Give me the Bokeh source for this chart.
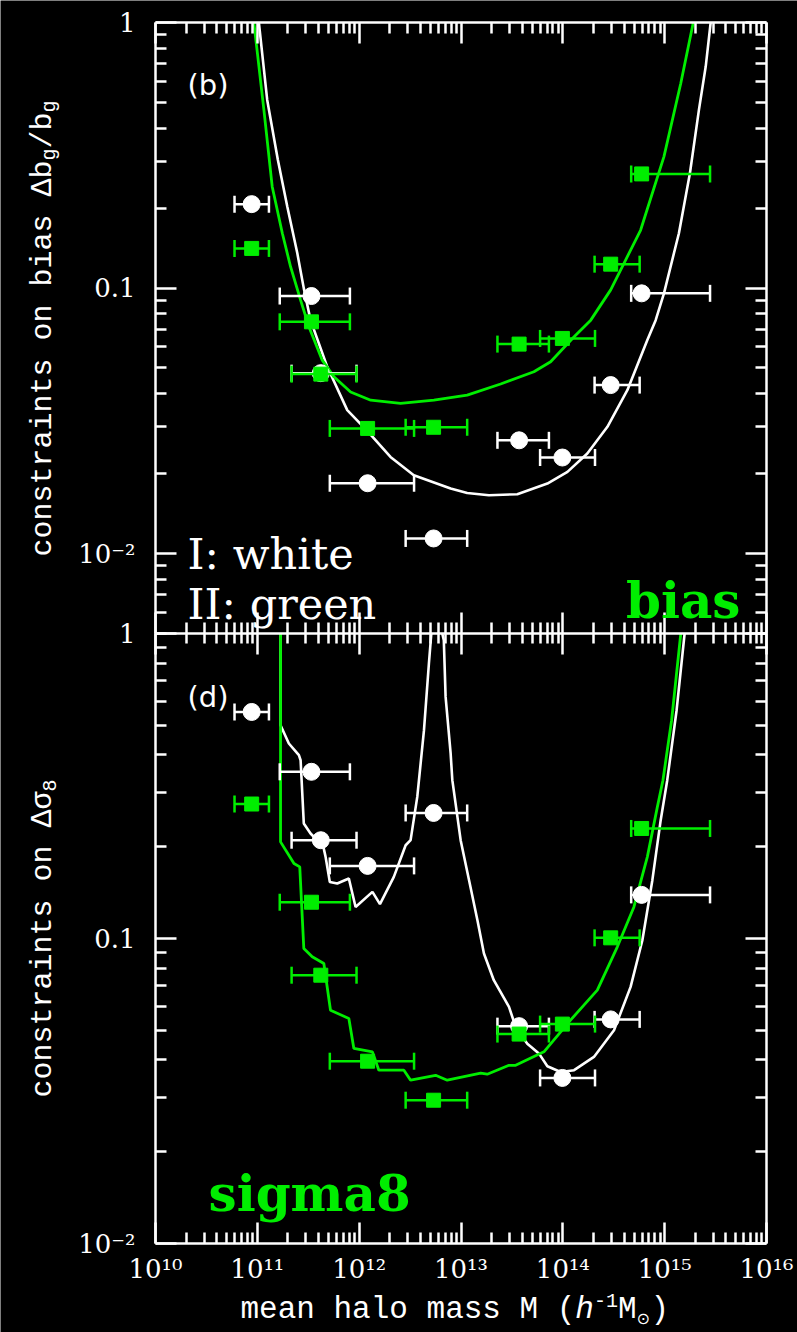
import numpy as np
from bokeh.plotting import figure
from bokeh.models import Range1d, LogScale, LogAxis, FixedTicker, Label
from bokeh.embed import file_html
from bokeh.resources import INLINE

# ---------------- data ----------------
# halo-mass bins shared by both panels (h^-1 Msun)
mass_pts = [8.8e10, 3.40e11, 4.2e11, 1.21e12, 5.38e12, 3.72e13, 9.9e13, 2.95e14, 5.94e14]
mass_lo = [5.97e10, 1.66e11, 2.17e11, 5.15e11, 2.86e12, 2.28e13, 5.98e13, 2.05e14, 4.69e14]
mass_hi = [1.30e11, 8.11e11, 9.42e11, 3.46e12, 1.15e13, 7.30e13, 2.07e14, 5.68e14, 2.79e15]

# panel (b): constraints on bias
bias_white = [0.207, 0.0933, 0.0478, 0.0184, 0.0114, 0.0267, 0.0230, 0.0431, 0.0955]
bias_green = [0.141, 0.0746, 0.0474, 0.0296, 0.0299, 0.0615, 0.0646, 0.123, 0.269]

bias_white_curve_m = [1.035e11, 1.25e11, 1.59e11, 1.97e11, 2.47e11, 2.86e11, 3.33e11, 4.86e11,
                      7.64e11, 1.20e12, 2.03e12, 3.44e12, 7.91e12, 1.15e13, 1.88e13, 3.57e13,
                      7.05e13, 1.11e14, 1.74e14, 2.74e14, 4.30e14, 6.76e14, 8.16e14, 9.84e14,
                      1.38e15, 1.77e15, 2.17e15, 2.53e15, 2.83e15]
bias_white_curve_v = [1.0, 0.511, 0.304, 0.2025, 0.1351, 0.0997, 0.0757, 0.0505,
                      0.0347, 0.0290, 0.02312, 0.01973, 0.01758, 0.01692, 0.01659, 0.01673,
                      0.01835, 0.02031, 0.02381, 0.03001, 0.04125, 0.0637, 0.0757, 0.0955,
                      0.1608, 0.2706, 0.4689, 0.6826, 1.0]
bias_green_curve_m = [9.25e10, 1.16e11, 1.40e11, 1.76e11, 2.12e11, 2.66e11, 3.21e11, 4.34e11,
                      5.65e11, 8.24e11, 1.30e12, 2.55e12, 5.42e12, 1.15e13, 2.45e13, 5.20e13,
                      7.59e13, 1.29e14, 1.88e14, 2.95e14, 5.81e14, 9.84e14, 1.44e15, 1.91e15]
bias_green_curve_v = [1.0, 0.469, 0.2408, 0.1608, 0.1203, 0.0901, 0.0715, 0.0535,
                      0.0463, 0.0406, 0.0378, 0.0368, 0.0378, 0.0395, 0.0435, 0.0484,
                      0.0528, 0.0655, 0.0757, 0.0984, 0.1654, 0.3126, 0.5907, 1.0]

# panel (d): constraints on sigma8
sig8_white = [0.553, 0.352, 0.210, 0.173, 0.258, 0.0516, 0.0349, 0.0543, 0.139]
sig8_green = [0.276, 0.1315, 0.0758, 0.0396, 0.0295, 0.0486, 0.0524, 0.1005, 0.2295]

nan = float("nan")
sig8_white_curve_m = [1.69e11, 1.69e11, 2.04e11, 2.56e11, 2.66e11, 2.86e11, 3.33e11, 4.44e11,
                      4.68e11, 5.15e11, 6.09e11, 7.92e11, 9.22e11, 1.35e12, 1.60e12, 2.19e12,
                      2.86e12, 3.20e12, 3.72e12, 4.33e12, 4.84e12, 5.11e12, 5.8e12,
                      6.55e12, 6.78e12, 7.06e12, 7.91e12, 8.22e12, 9.92e12, 1.20e13, 1.45e13,
                      1.68e13, 2.10e13, 2.96e13, 3.44e13, 4.48e13, 5.82e13, 7.05e13, 9.52e13,
                      1.29e14, 2.02e14, 3.18e14, 4.63e14, 6.04e14, 7.57e14, 9.14e14, 1.06e15,
                      1.31e15, 1.57e15]
sig8_white_curve_v = [1.0, 0.5005, 0.4358, 0.3990, 0.3842, 0.2382, 0.2210, 0.2007,
                      0.1852, 0.1533, 0.1515, 0.1573, 0.1269, 0.1422, 0.1296, 0.1592,
                      0.2022, 0.2101, 0.2912, 0.4819, 0.7973, 1.0, nan,
                      1.0, 0.951, 0.6197, 0.4043, 0.3304, 0.2101, 0.1553, 0.1148,
                      0.0893, 0.0730, 0.0597, 0.0513, 0.0452, 0.0420, 0.0381, 0.0365,
                      0.0370, 0.0409, 0.0500, 0.0694, 0.0987, 0.1553, 0.2443, 0.3304,
                      0.5604, 1.0]
sig8_green_curve_m = [1.69e11, 1.69e11, 2.29e11, 2.61e11, 2.86e11, 3.46e11, 4.50e11, 5.23e11,
                      7.92e11, 8.87e11, 1.35e12, 1.56e12, 2.75e12, 3.20e12, 5.63e12, 7.33e12,
                      1.56e13, 1.81e13, 2.96e13, 3.44e13, 6.52e13, 1.19e14, 2.18e14, 3.43e14,
                      4.99e14, 6.76e14, 8.48e14, 9.62e14, 1.17e15, 1.44e15]
sig8_green_curve_v = [1.0, 0.2074, 0.1762, 0.1717, 0.0927, 0.0871, 0.0828, 0.0582,
                      0.0547, 0.0436, 0.0425, 0.0370, 0.0370, 0.0343, 0.0356, 0.0343,
                      0.0362, 0.0359, 0.0384, 0.0384, 0.0425, 0.0540, 0.0677, 0.0939,
                      0.1269, 0.1852, 0.2701, 0.3304, 0.5195, 1.0]

x_tick_values = [1e10, 1e11, 1e12, 1e13, 1e14, 1e15, 1e16]
x_tick_labels = ["10\u00b9\u2070", "10\u00b9\u00b9", "10\u00b9\u00b2", "10\u00b9\u00b3",
                 "10\u00b9\u2074", "10\u00b9\u2075", "10\u00b9\u2076"]
y_tick_values = [0.01, 0.1, 1.0]
y_tick_labels = ["10\u207b\u00b2", "0.1", "1"]
x_limits = (1e10, 1e16)
bias_limits = (0.005, 1.0)
sig8_limits = (0.01, 1.0)

# ---------------- layout geometry (page pixels) ----------------
W, H = 797, 1332
FL, FT = 155, 22          # plot-box left / top
FW = 611                  # plot-box width
PH_TOP = 611              # height of upper panel
PH_BOT = 610              # height of lower panel
TOP_DEC = np.log10(bias_limits[1] / bias_limits[0])
BOT_DEC = np.log10(sig8_limits[1] / sig8_limits[0])
X_DEC = np.log10(x_limits[1] / x_limits[0])


def px_x(px):
    return x_limits[0] * 10 ** ((px - FL) * X_DEC / FW)


def px_top(py):
    return bias_limits[1] * 10 ** (-(py - FT) * TOP_DEC / PH_TOP)


def px_bot(py):
    return sig8_limits[1] * 10 ** (-(py - (FT + PH_TOP)) * BOT_DEC / PH_BOT)


WHITE = "#ffffff"
GREEN = "#00ee00"

# the frame fills the whole canvas; axes are pinned at the panel edges
p = figure(x_axis_type="log", y_axis_type="log",
           x_axis_location=None, y_axis_location=None,
           x_range=Range1d(px_x(0), px_x(W)), y_range=Range1d(px_top(H), px_top(0)),
           frame_width=W, frame_height=H, min_border=0,
           output_backend="svg", toolbar_location=None,
           background_fill_color="black", border_fill_color="black",
           outline_line_color=None)
p.extra_y_ranges = {"bot": Range1d(px_bot(H), px_bot(0))}
p.extra_y_scales = {"bot": LogScale()}
p.xgrid.visible = False
p.ygrid.visible = False

x_minor = [k * d for d in x_tick_values[:-1] for k in range(2, 10)]
y_minor_bot = [k * d for d in (0.01, 0.1) for k in range(2, 10)]
y_minor_top = [k * 0.001 for k in range(5, 10)] + y_minor_bot


def make_axis(side, loc, bounds, ticks, minor, labels=None, tick_out=0, standoff=20, rng=None):
    kw = {} if rng is None else {"y_range_name": rng}
    ax = LogAxis(fixed_location=loc, bounds=bounds, **kw)
    ax.ticker = FixedTicker(ticks=ticks, minor_ticks=minor)
    ax.axis_line_color = WHITE
    ax.axis_line_width = 2.5
    ax.major_tick_line_color = WHITE
    ax.major_tick_line_width = 2.5
    ax.minor_tick_line_color = WHITE
    ax.minor_tick_line_width = 2.5
    ax.major_tick_in = 21
    ax.major_tick_out = tick_out
    ax.minor_tick_in = 11
    ax.minor_tick_out = tick_out // 2
    ax.axis_label = None
    if labels is not None:
        ax.major_label_overrides = {t: s for t, s in zip(ticks, labels)}
        ax.major_label_text_font = "DejaVu Serif"
        ax.major_label_text_font_size = "26px"
        ax.major_label_text_color = WHITE
        ax.major_label_standoff = standoff
    else:
        ax.major_label_overrides = {t: "" for t in ticks}
        ax.major_label_text_font_size = "1px"
        ax.major_label_text_alpha = 0.0
        ax.major_label_standoff = 0
    p.add_layout(ax, side)
    return ax


# upper panel box
make_axis("above", bias_limits[1], x_limits, x_tick_values, x_minor)
make_axis("left", x_limits[0], bias_limits, y_tick_values, y_minor_top, y_tick_labels)
make_axis("right", x_limits[1], bias_limits, y_tick_values, y_minor_top)
# shared middle edge (ticks into both panels)
make_axis("below", bias_limits[0], x_limits, x_tick_values, x_minor, tick_out=21)
# lower panel box
make_axis("left", x_limits[0], sig8_limits, y_tick_values, y_minor_bot, y_tick_labels, rng="bot")
make_axis("right", x_limits[1], sig8_limits, y_tick_values, y_minor_bot, rng="bot")
make_axis("below", sig8_limits[0], x_limits, x_tick_values, x_minor, x_tick_labels,
          standoff=10, rng="bot")


def panel(white_v, green_v, wcm, wcv, gcm, gcv, rng):
    kw = {} if rng is None else {"y_range_name": rng}
    p.line(wcm, wcv, line_color=WHITE, line_width=2.6, **kw)
    p.line(gcm, gcv, line_color=GREEN, line_width=2.8, **kw)
    for vals, col, marker, size in ((white_v, WHITE, "circle", 17), (green_v, GREEN, "square", 14)):
        p.segment(x0=mass_lo, y0=vals, x1=mass_hi, y1=vals, line_color=col, line_width=2.5, **kw)
        p.scatter(mass_lo + mass_hi, vals + vals, marker="dash", angle=np.pi / 2, size=17,
                  line_color=col, line_width=2.5, **kw)
        p.scatter(mass_pts, vals, marker=marker, size=size, fill_color=col, line_color=col, **kw)


panel(bias_white, bias_green, bias_white_curve_m, bias_white_curve_v,
      bias_green_curve_m, bias_green_curve_v, None)
panel(sig8_white, sig8_green, sig8_white_curve_m, sig8_white_curve_v,
      sig8_green_curve_m, sig8_green_curve_v, "bot")


def label(px, py, text, rng=None, font="Liberation Mono", size="30px", color=WHITE,
          angle=0, align="left", style_="normal", baseline="alphabetic"):
    yv = px_top(py) if rng is None else px_bot(py)
    kw = {} if rng is None else {"y_range_name": rng}
    p.add_layout(Label(x=px_x(px), y=yv, text=text, text_font=font, text_font_size=size,
                       text_color=color, text_align=align, text_baseline=baseline,
                       angle=angle, angle_units="deg", text_font_style=style_, **kw))


# y-axis label, upper panel (rotated, built from pieces for the subscripts)
CH = 18.0  # advance of a 30px monospace glyph
y0 = 556
label(42, y0, "constraints on bias \u0394b", angle=90)
y0 -= 22 * CH
label(49, y0, "g", size="20px", angle=90)
y0 -= 12
label(42, y0, "/b", angle=90)
y0 -= 2 * CH
label(49, y0, "g", size="20px", angle=90)

# y-axis label, lower panel
y1 = 1097
label(42, y1, "constraints on \u0394\u03c3", rng="bot", angle=90)
y1 -= 17 * CH
label(49, y1, "8", rng="bot", size="20px", angle=90)

# x-axis label (anchored at the middle of the text line)
CX = 18.6  # advance of a 31px monospace glyph
XM = 1309  # vertical middle of the main text line
xx = 240
label(xx, XM, "mean halo mass M (", rng="bot", size="31px", baseline="middle")
xx += 18 * CX
label(xx, XM, "h", rng="bot", size="31px", style_="italic", baseline="middle")
xx += CX
label(xx, XM - 9, "-1", rng="bot", size="20px", baseline="middle")
xx += 24
label(xx, XM, "M", rng="bot", size="31px", baseline="middle")
xx += CX
label(xx, XM + 9, "\u2299", rng="bot", font="DejaVu Sans", size="16px", baseline="middle")
xx += 14
label(xx, XM, ")", rng="bot", size="31px", baseline="middle")

# panel tags and legends
label(187, 84, "(b)", font="DejaVu Sans", size="29px")
label(187, 696, "(d)", rng="bot", font="DejaVu Sans", size="29px")
label(187, 553, "I: white", font="DejaVu Serif", size="43px")
label(187, 603, "II: green", font="DejaVu Serif", size="43px")
label(740, 600, "bias", font="DejaVu Serif", size="50px", color=GREEN, align="right",
      style_="bold")
label(208, 1193, "sigma8", rng="bot", font="DejaVu Serif", size="50px", color=GREEN,
      style_="bold")

open("out.html", "w").write(file_html(p, INLINE))
